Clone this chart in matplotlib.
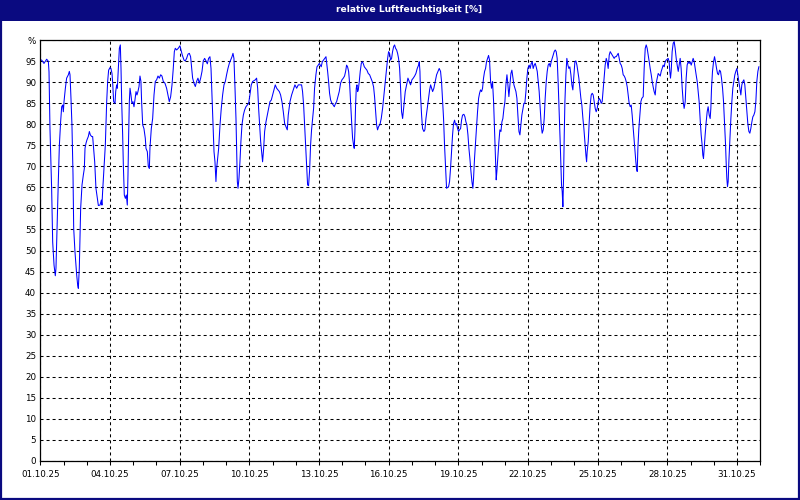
import datetime as dt
import matplotlib
matplotlib.use("Agg")
import matplotlib.pyplot as plt
import matplotlib.dates as mdates
from matplotlib.patches import Rectangle

# (hours since 01.10.2025 00:00, relative humidity %)
seg_oct01_06 = [
    (0, 95.3), (1.4, 95.3), (3.8, 94.5), (6.6, 95.5), (8.3, 95.0), (9.0, 92.5), (10.0, 79.0),
    (11.7, 64.8), (12.8, 52.0), (14.2, 46.5), (15.5, 44.0), (16.2, 45.8), (16.9, 52.0),
    (18.6, 66.4), (19.7, 75.0), (21.0, 80.6), (22.1, 84.2), (23.1, 84.6), (23.8, 83.0),
    (24.5, 85.4), (25.9, 88.6), (27.2, 91.0), (29.0, 91.8), (30.0, 92.6), (30.7, 91.8),
    (31.7, 86.2), (32.7, 79.9), (33.8, 68.0), (34.5, 55.3), (35.8, 49.8), (37.6, 44.2),
    (38.6, 41.8), (39.3, 41.0), (40.3, 45.8), (41.7, 60.0), (43.1, 65.6), (44.5, 68.0),
    (45.5, 69.5), (46.2, 74.3), (47.2, 75.5), (48.2, 76.3), (49.6, 77.1), (50.7, 78.3),
    (51.7, 77.5), (53.1, 77.1), (54.1, 77.1), (54.8, 75.1), (56.2, 71.1), (57.5, 64.8),
    (58.9, 62.4), (60.0, 60.7), (61.7, 60.8), (63.1, 62.0), (63.7, 60.8), (64.4, 64.0),
    (65.8, 69.5), (67.2, 75.1), (68.6, 85.4), (69.6, 90.2), (70.6, 92.9), (72.0, 93.5),
    (73.0, 93.3), (74.1, 92.1), (74.8, 89.8), (75.8, 85.4), (77.2, 85.0), (77.9, 87.8),
    (78.9, 89.4), (79.6, 88.6), (80.3, 91.8), (81.0, 94.9), (81.7, 98.1), (82.7, 98.9),
    (83.4, 93.3), (84.1, 85.4), (85.1, 77.5), (85.8, 70.4), (86.8, 63.2), (87.9, 62.4),
    (88.9, 63.2), (89.9, 60.8), (90.6, 68.0), (91.3, 77.5), (92.0, 85.4), (92.7, 88.6),
    (93.7, 87.0), (94.7, 85.0), (95.8, 85.4), (96.8, 84.2), (97.8, 85.8), (98.9, 87.8),
    (99.9, 87.0), (100.9, 87.8), (102.0, 89.0), (103.0, 91.5), (104.0, 90.2), (104.7, 85.4),
    (105.8, 79.9), (107.1, 79.0), (108.5, 76.7), (109.2, 74.3), (110.6, 73.5), (111.6, 70.0),
    (112.7, 69.5), (113.3, 74.3), (114.7, 79.0), (116.1, 81.4), (117.5, 87.0), (118.8, 90.2),
    (120.2, 90.6), (121.6, 91.5), (123.0, 91.0), (124.4, 91.8), (125.7, 91.5), (127.1, 90.2),
]

seg_oct06_11 = [
    (128.8, 89.8), (130.5, 88.6), (132.3, 86.6), (133.3, 85.4), (134.7, 86.6), (136.1, 89.4),
    (137.4, 93.3), (138.5, 97.3), (139.5, 98.1), (140.9, 97.7), (142.6, 98.1), (144.3, 98.7),
    (145.4, 97.7), (146.7, 96.5), (148.5, 95.3), (149.8, 95.1), (151.2, 95.7), (152.6, 96.7),
    (154.0, 96.9), (155.3, 96.1), (156.4, 93.3), (157.4, 91.0), (158.8, 89.8), (160.2, 89.0),
    (161.5, 90.2), (162.9, 91.0), (164.3, 89.8), (165.7, 91.0), (167.1, 92.6), (168.4, 95.1),
    (169.8, 95.7), (171.2, 95.1), (172.6, 94.4), (173.9, 95.7), (175.3, 96.1), (176.4, 93.3),
    (177.4, 87.0), (178.4, 80.6), (179.5, 73.5), (180.5, 71.1), (181.5, 66.4), (182.2, 69.5),
    (183.2, 71.9), (184.3, 74.3), (185.7, 79.9), (187.0, 83.8), (188.4, 87.0), (189.8, 89.4),
    (191.2, 90.2), (192.5, 91.8), (193.9, 93.3), (195.3, 94.5), (196.7, 95.3), (198.1, 96.1),
    (199.1, 96.9), (200.1, 95.7), (201.2, 88.6), (202.2, 81.4), (202.9, 73.5), (203.6, 66.4),
    (204.3, 64.8), (205.3, 67.2), (206.3, 71.1), (207.3, 75.9), (208.4, 79.9), (209.8, 82.2),
    (211.1, 83.4), (212.5, 84.2), (213.9, 84.6), (215.3, 85.0), (216.6, 87.0), (218.0, 89.4),
    (219.4, 90.2), (220.8, 90.4), (222.2, 90.6), (223.5, 91.0), (224.6, 88.6), (225.6, 83.8),
    (226.6, 79.9), (227.7, 75.9), (228.7, 73.5), (229.7, 71.1), (230.8, 74.3), (231.8, 78.3),
    (233.2, 80.6), (234.6, 82.2), (235.9, 83.8), (237.3, 85.4), (238.7, 85.8), (240.1, 87.0),
    (241.4, 88.2), (242.8, 89.4), (244.2, 88.6), (245.6, 88.2), (247.0, 87.8), (248.3, 87.0),
    (249.7, 85.4), (251.1, 83.0), (252.5, 80.2),
]

seg_oct11_16 = [
    (253.8, 79.5), (255.2, 78.7), (256.2, 82.2), (258.0, 85.4), (259.7, 87.0), (261.4, 88.2),
    (263.1, 89.4), (264.9, 88.6), (266.6, 89.4), (268.3, 89.4), (270.0, 89.4), (271.0, 87.8),
    (272.1, 84.6), (273.1, 79.9), (274.2, 75.1), (275.2, 69.5), (276.2, 65.6), (277.2, 65.4),
    (278.3, 69.1), (279.3, 75.1), (280.3, 78.7), (281.4, 81.4), (282.4, 83.8), (283.4, 88.6),
    (284.8, 91.8), (285.9, 93.7), (287.2, 94.1), (288.3, 94.5), (289.3, 94.1), (290.3, 93.7),
    (291.4, 94.9), (292.7, 95.3), (294.1, 95.7), (295.2, 96.1), (295.8, 94.9), (296.9, 92.6),
    (297.9, 90.2), (298.9, 87.4), (300.0, 85.8), (301.4, 85.0), (302.7, 84.6), (303.8, 84.2),
    (305.1, 85.0), (306.2, 85.4), (307.6, 86.6), (308.9, 87.8), (310.3, 89.8), (311.7, 90.6),
    (313.1, 91.0), (314.4, 91.5), (315.5, 92.6), (316.5, 94.1), (317.5, 93.7), (318.6, 92.6),
    (319.6, 89.8), (320.6, 85.4), (321.7, 80.6), (322.7, 76.7), (323.7, 75.1), (324.4, 74.3),
    (325.1, 78.3), (325.8, 84.6), (326.5, 88.6), (327.2, 89.4), (327.9, 87.8), (328.6, 88.2),
    (329.6, 90.2), (330.6, 92.6), (331.7, 94.5), (332.7, 94.9), (333.7, 94.5), (334.8, 93.7),
    (336.1, 93.3), (337.5, 92.9), (338.9, 92.1), (340.3, 91.8), (341.6, 91.0), (343.0, 90.2),
    (344.4, 88.9), (345.4, 86.6), (346.5, 83.0), (347.5, 79.9), (348.5, 78.7), (349.6, 79.5),
    (350.9, 79.9), (352.3, 81.4), (353.7, 83.8), (355.1, 87.0), (356.5, 90.2), (357.8, 93.3),
    (358.9, 95.7), (359.9, 97.3), (360.9, 96.9), (362.0, 95.3), (363.0, 95.7), (364.0, 97.3),
    (365.1, 98.5), (366.1, 98.9), (367.1, 98.1), (368.2, 97.7), (369.2, 96.9), (370.2, 95.7),
    (371.3, 93.3), (372.3, 88.6), (373.3, 83.0), (374.4, 81.4),
]

seg_oct16_21 = [
    (376.1, 85.4), (377.1, 87.8), (378.5, 89.4), (379.9, 91.0), (381.2, 90.2), (382.6, 89.4),
    (384.0, 90.6), (385.4, 91.0), (386.8, 91.5), (388.1, 92.1), (389.5, 93.3), (390.9, 94.1),
    (391.6, 94.9), (392.3, 92.6), (392.9, 87.0), (394.0, 82.2), (395.0, 79.0), (396.4, 78.3),
    (397.4, 78.7), (398.5, 81.4), (399.8, 83.8), (401.2, 86.2), (402.3, 88.2), (403.3, 89.4),
    (404.3, 88.6), (405.4, 87.8), (406.7, 88.6), (408.1, 90.2), (409.5, 91.8), (410.9, 92.6),
    (412.2, 93.3), (413.6, 92.6), (414.6, 90.2), (415.7, 85.4), (416.7, 81.4), (417.7, 75.1),
    (418.8, 69.5), (419.8, 64.8), (420.8, 65.0), (421.9, 65.2), (422.9, 66.4), (423.9, 69.5),
    (425.0, 73.5), (426.0, 77.5), (427.0, 80.2), (428.1, 81.0), (429.1, 79.9), (430.1, 80.2),
    (431.2, 79.0), (432.2, 78.3), (433.2, 78.7), (434.3, 79.0), (435.3, 81.0), (436.3, 82.2),
    (437.7, 82.4), (438.8, 81.8), (439.8, 80.6), (440.8, 79.9), (441.9, 77.5), (442.9, 74.3),
    (443.9, 71.9), (445.0, 68.8), (446.0, 66.4), (447.0, 64.8), (447.7, 67.2), (448.7, 71.9),
    (449.8, 75.9), (450.8, 79.9), (451.8, 83.0), (452.9, 86.2), (453.9, 87.4), (454.9, 88.2),
    (456.0, 87.8), (457.0, 88.6), (458.0, 91.0), (459.1, 92.6), (460.1, 93.3), (461.1, 94.9),
    (462.2, 95.7), (463.2, 96.4), (464.2, 95.3), (465.3, 90.2), (466.3, 88.6), (467.3, 90.2),
    (468.4, 85.4), (469.4, 78.3), (470.4, 71.1), (471.1, 66.8), (471.8, 68.8), (472.9, 72.7),
    (473.9, 75.9), (474.9, 78.7), (476.0, 78.3), (477.0, 80.6), (478.0, 81.4), (479.1, 83.8),
    (480.1, 85.4), (481.1, 89.4), (482.2, 91.8), (483.2, 89.4), (484.2, 86.6), (485.3, 89.4),
    (486.3, 92.1), (487.3, 92.9), (488.4, 91.0), (489.4, 89.4), (490.4, 88.6), (491.5, 87.8),
    (492.5, 86.2), (493.5, 82.2), (494.6, 78.3), (495.6, 77.5), (496.6, 79.9), (497.6, 82.2),
]

seg_oct21_26 = [
    (499.7, 85.0), (500.7, 85.0), (501.8, 87.8), (502.8, 91.0), (503.8, 93.3), (505.2, 94.1),
    (506.2, 93.3), (507.3, 94.5), (508.3, 94.9), (509.3, 93.3), (510.4, 94.1), (511.4, 94.5),
    (512.4, 93.7), (513.5, 92.6), (514.5, 90.2), (515.5, 87.8), (516.6, 83.8), (517.6, 79.9),
    (518.6, 77.9), (519.7, 78.7), (520.7, 81.4), (521.7, 86.2), (522.8, 90.2), (523.8, 92.6),
    (524.8, 94.1), (525.9, 94.5), (526.9, 93.7), (527.9, 94.9), (529.0, 95.7), (530.0, 96.5),
    (531.0, 97.3), (532.1, 97.7), (533.1, 97.3), (534.1, 95.7), (535.2, 89.4), (536.2, 83.0),
    (537.2, 75.9), (537.9, 70.4), (538.6, 65.6), (539.3, 64.0), (540.0, 60.4), (540.7, 67.2),
    (541.4, 77.5), (542.1, 85.4), (543.1, 91.8), (544.1, 95.7), (545.2, 94.1), (546.2, 93.3),
    (547.2, 93.7), (548.3, 91.8), (549.3, 89.4), (550.3, 88.2), (551.4, 91.8), (552.4, 94.9),
    (553.4, 95.1), (554.5, 94.1), (555.5, 92.6), (556.5, 91.0), (557.6, 88.6), (558.6, 86.2),
    (559.6, 84.6), (560.7, 81.4), (561.7, 79.0), (562.7, 75.9), (563.8, 72.7), (564.5, 71.1),
    (565.1, 73.5), (566.2, 75.9), (567.2, 80.6), (568.2, 84.6), (569.3, 87.0), (570.3, 87.4),
    (571.3, 87.0), (572.4, 85.4), (573.4, 83.8), (574.4, 83.0), (575.5, 83.8), (576.5, 85.4),
    (577.5, 86.2), (578.6, 85.8), (579.6, 85.0), (580.6, 85.4), (581.7, 88.6), (582.7, 91.8),
    (583.7, 94.1), (584.8, 95.7), (585.8, 94.9), (586.8, 93.3), (587.9, 96.5), (588.9, 97.3),
    (589.9, 96.9), (591.0, 96.5), (592.0, 96.1), (593.0, 95.7), (594.1, 96.1), (595.1, 96.1),
    (596.1, 96.5), (597.2, 96.9), (598.2, 95.7), (599.2, 94.5), (600.3, 94.1), (601.3, 93.3),
    (602.3, 91.8), (603.4, 91.5), (604.4, 91.0), (605.4, 90.2), (606.5, 88.9), (607.5, 87.0),
    (608.5, 85.0), (609.6, 84.2), (610.6, 84.6), (611.6, 82.2), (612.7, 79.0), (613.7, 75.9),
    (614.7, 73.5), (615.4, 71.1), (616.1, 69.5), (616.8, 68.8), (617.5, 74.3), (618.5, 79.0),
    (619.6, 82.2),
]

seg_oct26_31 = [
    (620.6, 85.4), (621.6, 86.2), (623.0, 86.6), (624.0, 93.3), (625.1, 98.1), (626.1, 98.9),
    (627.1, 98.1), (628.2, 96.5), (629.2, 94.9), (630.2, 93.3), (631.3, 91.8), (632.3, 90.2),
    (633.3, 88.9), (634.3, 87.8), (635.4, 87.0), (636.4, 89.8), (637.5, 91.0), (638.5, 92.1),
    (639.5, 91.8), (640.6, 91.5), (641.6, 92.6), (642.6, 93.3), (643.6, 94.1), (644.7, 93.7),
    (645.7, 94.9), (646.7, 95.3), (647.8, 95.5), (648.8, 95.7), (649.8, 94.9), (650.5, 92.6),
    (651.2, 91.0), (651.9, 92.6), (652.9, 97.3), (654.0, 99.3), (655.0, 99.7), (656.0, 98.1),
    (657.1, 95.7), (658.1, 94.1), (659.2, 92.6), (660.2, 94.1), (661.2, 95.7), (662.2, 93.3),
    (663.3, 88.6), (664.3, 85.4), (665.3, 83.8), (666.4, 85.4), (667.4, 91.0), (668.4, 94.1),
    (669.5, 94.9), (670.5, 94.5), (671.5, 94.9), (672.6, 94.1), (673.6, 94.9), (674.6, 95.7),
    (675.7, 94.9), (676.7, 93.3), (677.7, 91.8), (678.8, 90.2), (679.8, 87.8), (680.8, 85.4),
    (681.9, 81.0), (682.9, 77.5), (683.9, 75.1), (684.6, 72.7), (685.3, 71.9), (686.0, 74.3),
    (687.0, 77.5), (688.1, 80.6), (689.1, 83.0), (690.1, 84.2), (691.2, 82.2), (692.2, 81.4),
    (692.9, 83.8), (693.6, 88.6), (694.6, 92.6), (695.7, 94.9), (696.7, 96.1), (697.7, 94.9),
    (698.8, 93.3), (699.8, 92.1), (700.8, 91.8), (701.9, 92.9), (702.9, 92.6), (703.9, 91.0),
    (705.0, 88.6), (706.0, 85.4), (707.0, 80.6), (708.1, 75.1), (708.7, 71.1), (709.4, 67.2),
    (710.1, 65.2), (710.8, 66.4), (711.5, 71.1), (712.5, 75.9), (713.6, 81.4), (714.6, 85.4),
    (715.6, 88.6), (716.7, 90.2), (717.7, 91.8), (718.7, 92.6), (719.8, 93.3), (720.8, 91.8),
    (721.8, 90.2), (722.9, 88.6), (723.9, 87.0), (724.9, 89.4), (726.0, 90.2), (727.0, 90.6),
    (728.0, 89.4), (729.1, 86.2), (730.1, 83.0), (731.1, 80.2), (732.2, 78.3), (733.2, 77.9),
    (734.2, 79.0), (735.3, 80.6), (736.3, 81.8), (737.3, 82.2), (738.4, 83.0), (739.4, 85.4),
    (740.4, 90.2), (741.5, 92.6), (742.5, 93.7),
]

y_ticks = list(range(0, 101, 5))
y_tick_labels = [str(v) for v in range(0, 100, 5)] + ["%"]
x_label_days = [1, 4, 7, 10, 13, 16, 19, 22, 25, 28, 31]
title_text = "relative Luftfeuchtigkeit [%]"

segments = [seg_oct01_06, seg_oct06_11, seg_oct11_16, seg_oct16_21, seg_oct21_26, seg_oct26_31]
points = [p for seg in segments for p in seg]
start = dt.datetime(2025, 10, 1)
end = dt.datetime(2025, 11, 1)
times = [start + dt.timedelta(hours=h) for h, _ in points]
values = [v for _, v in points]

NAVY = "#0A0A80"
plt.rcParams["font.family"] = ["DejaVu Sans"]

fig = plt.figure(figsize=(8, 5), dpi=100)
fig.patch.set_facecolor("white")

# title bar and frame
fig.patches.append(Rectangle((0, 1 - 20.5 / 500), 1, 20.5 / 500, transform=fig.transFigure,
                             facecolor=NAVY, edgecolor="none", zorder=0))
fig.patches.append(Rectangle((0.001, 0.002), 0.998, 0.996, transform=fig.transFigure,
                             facecolor="none", edgecolor=NAVY, linewidth=1.6, zorder=5))
fig.text(409 / 800, 1 - 9.5 / 500, title_text, color="white", fontsize=6.6,
         fontweight="bold", ha="center", va="center")

ax = fig.add_axes([40.3 / 800, 39.3 / 500, 720 / 800, 420.4 / 500])
ax.plot(times, values, color="#0000FF", linewidth=0.75)

ax.set_ylim(0, 100)
ax.set_xlim(start, end)
ax.set_yticks(y_ticks)
ax.set_yticklabels(y_tick_labels)

major_dates = [dt.datetime(2025, 10, d) for d in x_label_days]
ax.set_xticks(mdates.date2num(major_dates))
ax.set_xticklabels([d.strftime("%d.%m.%y") for d in major_dates])
ax.xaxis.set_minor_locator(mdates.DayLocator())

ax.grid(True, which="major", color="black", linestyle=(0, (2.9, 2.9)), linewidth=0.75)
ax.tick_params(axis="y", length=0, pad=3, labelsize=6.3, colors="black")
ax.tick_params(axis="x", which="both", length=3.2, width=0.75, direction="out",
               pad=3.2, labelsize=6.3, colors="black")
for s in ax.spines.values():
    s.set_color("black")
    s.set_linewidth(0.9)

fig.savefig("out.png", dpi=100, facecolor="white")
